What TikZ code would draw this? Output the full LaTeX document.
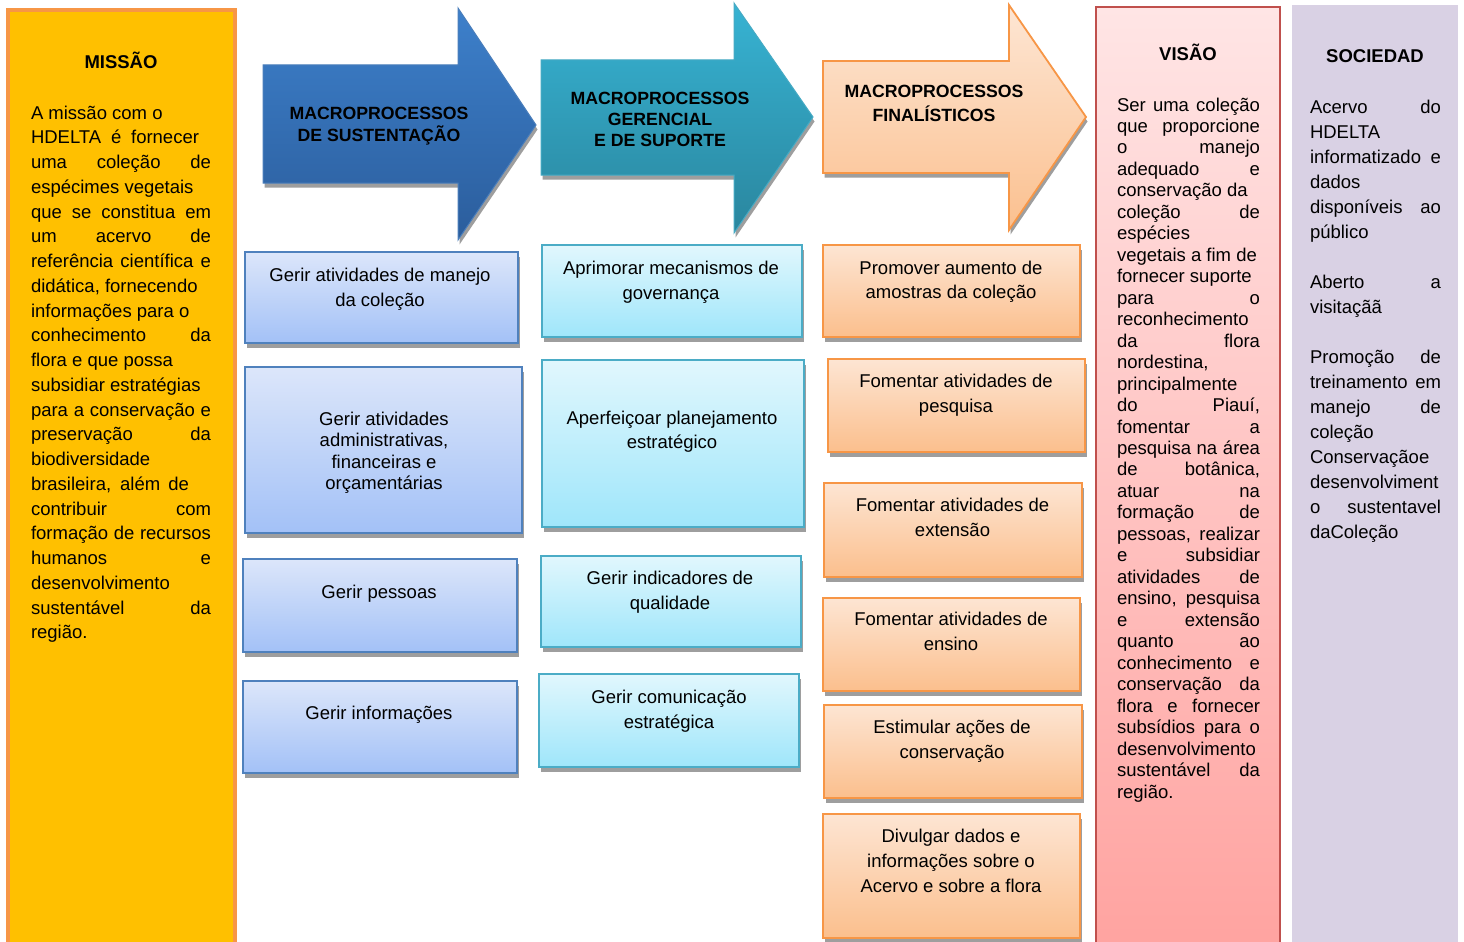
\documentclass[tikz,border=0pt]{standalone}
\usepackage{fontspec}
\setmainfont{Liberation Sans}
\usetikzlibrary{shadows}
\definecolor{missfill}{HTML}{FFC000}
\definecolor{missbd}{HTML}{F79646}
\definecolor{bluetop}{HTML}{DCE6FA}
\definecolor{bluebot}{HTML}{A3C1F7}
\definecolor{bluebd}{HTML}{4F81BD}
\definecolor{tealtop}{HTML}{E1F7FD}
\definecolor{tealbot}{HTML}{9FE6FA}
\definecolor{tealbd}{HTML}{4BACC6}
\definecolor{orgtop}{HTML}{FDE5D3}
\definecolor{orgbot}{HTML}{FBBF8D}
\definecolor{orgbd}{HTML}{F79646}
\definecolor{aonetop}{HTML}{3D80CB}
\definecolor{aonebot}{HTML}{2B5D9C}
\definecolor{aonebd}{HTML}{4A7EBB}
\definecolor{atwotop}{HTML}{37B3D3}
\definecolor{atwobot}{HTML}{2A869E}
\definecolor{atwobd}{HTML}{46AAC4}
\definecolor{athreetop}{HTML}{FDE6D4}
\definecolor{athreebot}{HTML}{FBC08F}
\definecolor{vistop}{HTML}{FFE5E5}
\definecolor{visbot}{HTML}{FFA3A0}
\definecolor{visbd}{HTML}{C0504D}
\definecolor{socfill}{HTML}{D9D1E4}
\newlength\jw
\newcommand\J[1]{\makebox[\jw][s]{#1}}
\newcommand\tl[2]{\fontsize{18.5}{#1}\selectfont\begin{tabular}[t]{@{}c@{}}#2\end{tabular}}
\newcommand\ttl[2]{\fontsize{17.7}{#1}\selectfont\bfseries\begin{tabular}[t]{@{}c@{}}#2\end{tabular}}
\newcommand\jt[3]{\setlength\jw{#2}\fontsize{18.5}{#1}\selectfont\begin{tabular}[t]{@{}l@{}}#3\end{tabular}}
\newcommand\bx[6]{\node[#2, minimum width={(#5)-(#3)}, minimum height={(#6)-(#4)}] (#1) at ({((#3)+(#5))/2},{-((#4)+(#6))/2}) {};}
\tikzset{
  bse/.style={inner sep=0pt, outer sep=0pt},
  shd/.style={drop shadow={shadow xshift=1.5pt, shadow yshift=-4.5pt, opacity=1, fill=black!38}},
  bluebox/.style={bse, rectangle, draw=bluebd, line width=1.8pt, top color=bluetop, bottom color=bluebot, shd},
  tealbox/.style={bse, rectangle, draw=tealbd, line width=1.8pt, top color=tealtop, bottom color=tealbot, shd},
  orgbox/.style={bse, rectangle, draw=orgbd, line width=1.8pt, top color=orgtop, bottom color=orgbot, shd},
  lbl/.style={bse, anchor=base, text=black},
  jlbl/.style={bse, anchor=base west, text=black},
  ttlbl/.style={bse, anchor=base, text=black, font=\fontsize{18.5}{22}\selectfont\bfseries},
}
\begin{document}
\begin{tikzpicture}[x=1pt,y=1pt]
\useasboundingbox (0,0) rectangle (1464,-942);
\fill[white] (0,0) rectangle (1464,-942);
\clip (0,0) rectangle (1464,-942);

% MISSAO
\bx{missao}{bse, rectangle, draw=missbd, line width=4pt, fill=missfill}{8}{10}{235}{960}
\node[ttlbl] (missaot) at (121,-68.5) {MISSÃO};
\node[jlbl] (missaotx) at (31,-119) {\jt{24.76}{180pt}{%
A missão com o\\
\makebox[168pt][s]{HDELTA é fornecer}\\
\J{uma coleção de}\\
espécimes vegetais\\
\J{que se constitua em}\\
\J{um acervo de}\\
\J{referência científica e}\\
didática, fornecendo\\
informações para o\\
\J{conhecimento da}\\
flora e que possa\\
subsidiar estratégias\\
\J{para a conservação e}\\
\J{preservação da}\\
biodiversidade\\
\makebox[158pt][s]{brasileira, além de}\\
\J{contribuir com}\\
\J{formação de recursos}\\
\J{humanos e}\\
desenvolvimento\\
\J{sustentável da}\\
região.}};

% ARROWS
\path[shd, top color=aonetop, bottom color=aonebot, draw=aonebd, line width=1pt]
  (263,-65) -- (458,-65) -- (458,-8) -- (536,-125) -- (458,-240) -- (458,-183) -- (263,-183) -- cycle;
\node[lbl] (aonet) at (379,-119.5) {\ttl{22}{MACROPROCESSOS\\DE SUSTENTAÇÃO}};

\path[shd, top color=atwotop, bottom color=atwobot, draw=atwobd, line width=1pt]
  (541,-60) -- (734,-60) -- (734,-3) -- (813,-117) -- (734,-233) -- (734,-175) -- (541,-175) -- cycle;
\node[lbl] (atwot) at (660,-104.5) {\ttl{21}{MACROPROCESSOS\\GERENCIAL\\E DE SUPORTE}};

\path[shd, top color=athreetop, bottom color=athreebot, draw=orgbd, line width=1.8pt]
  (823,-61) -- (1009,-61) -- (1009,-5) -- (1086,-117) -- (1009,-230) -- (1009,-173) -- (823,-173) -- cycle;
\node[lbl] (athreet) at (934,-97.5) {\ttl{24}{MACROPROCESSOS\\FINALÍSTICOS}};

% BLUE COLUMN
\bx{gone}{bluebox}{245}{252}{518}{343}
\node[lbl] (gonet) at (380,-281) {\tl{25}{Gerir atividades de manejo\\da coleção}};
\bx{gtwo}{bluebox}{245}{367}{522}{533}
\node[lbl] (gtwot) at (384,-425) {\tl{21.5}{Gerir atividades\\administrativas,\\financeiras e\\orçamentárias}};
\bx{gthree}{bluebox}{243}{559}{517}{652}
\node[lbl] (gthreet) at (379,-598) {\tl{25}{Gerir pessoas}};
\bx{gfour}{bluebox}{243}{681}{517}{773}
\node[lbl] (gfourt) at (379,-719) {\tl{25}{Gerir informações}};

% TEAL COLUMN
\bx{tone}{tealbox}{542}{245}{802}{337}
\node[lbl] (tonet) at (671,-274) {\tl{25}{Aprimorar mecanismos de\\governança}};
\bx{ttwo}{tealbox}{542}{360}{804}{527}
\node[lbl] (ttwot) at (672,-424) {\tl{24}{Aperfeiçoar planejamento\\estratégico}};
\bx{tthree}{tealbox}{541}{556}{801}{647}
\node[lbl] (tthreet) at (670,-584) {\tl{25}{Gerir indicadores de\\qualidade}};
\bx{tfour}{tealbox}{539}{674}{799}{767}
\node[lbl] (tfourt) at (669,-703) {\tl{25}{Gerir comunicação\\estratégica}};

% ORANGE COLUMN
\bx{oone}{orgbox}{823}{245}{1080}{337}
\node[lbl] (oonet) at (951,-274) {\tl{24.5}{Promover aumento de\\amostras da coleção}};
\bx{otwo}{orgbox}{828}{359}{1085}{452}
\node[lbl] (otwot) at (956,-387) {\tl{25}{Fomentar atividades de\\pesquisa}};
\bx{othree}{orgbox}{824}{483}{1082}{577}
\node[lbl] (othreet) at (952.5,-511) {\tl{25}{Fomentar atividades de\\extensão}};
\bx{ofour}{orgbox}{823}{598}{1080}{691}
\node[lbl] (ofourt) at (951,-625) {\tl{25}{Fomentar atividades de\\ensino}};
\bx{ofive}{orgbox}{824}{705}{1082}{798}
\node[lbl] (ofivet) at (952,-733) {\tl{25}{Estimular ações de\\conservação}};
\bx{osix}{orgbox}{823}{814}{1080}{938}
\node[lbl] (osixt) at (951,-842) {\tl{25}{Divulgar dados e\\informações sobre o\\Acervo e sobre a flora}};

% VISAO
\bx{visao}{bse, rectangle, draw=visbd, line width=2pt, top color=vistop, bottom color=visbot}{1096}{7}{1280}{950}
\node[ttlbl] (visaot) at (1188,-60) {VISÃO};
\node[jlbl] (visaotx) at (1117,-111) {\jt{21.47}{143pt}{%
\J{Ser uma coleção}\\
\J{que proporcione}\\
\J{o manejo}\\
\J{adequado e}\\
conservação da\\
\J{coleção de}\\
espécies\\
vegetais a fim de\\
fornecer suporte\\
\J{para o}\\
reconhecimento\\
\J{da flora}\\
nordestina,\\
principalmente\\
\J{do Piauí,}\\
\J{fomentar a}\\
\J{pesquisa na área}\\
\J{de botânica,}\\
\J{atuar na}\\
\J{formação de}\\
\J{pessoas, realizar}\\
\J{e subsidiar}\\
\J{atividades de}\\
\J{ensino, pesquisa}\\
\J{e extensão}\\
\J{quanto ao}\\
\J{conhecimento e}\\
\J{conservação da}\\
\J{flora e fornecer}\\
\J{subsídios para o}\\
desenvolvimento\\
\J{sustentável da}\\
região.}};

% SOCIEDAD
\bx{soc}{bse, rectangle, fill=socfill}{1292}{5}{1458}{950}
\node[ttlbl] (soct) at (1375,-62.5) {SOCIEDAD};
\node[jlbl] (soctx) at (1310,-113.5) {\jt{25}{131pt}{%
\J{Acervo do}\\
HDELTA\\
\J{informatizado e}\\
dados\\
\J{disponíveis ao}\\
público\\
\mbox{}\\
\J{Aberto a}\\
visitaçãã\\
\mbox{}\\
\J{Promoção de}\\
\J{treinamento em}\\
\J{manejo de}\\
coleção\\
Conservaçãoe\\
desenvolviment\\
\J{o sustentavel}\\
daColeção}};
\end{tikzpicture}
\end{document}
